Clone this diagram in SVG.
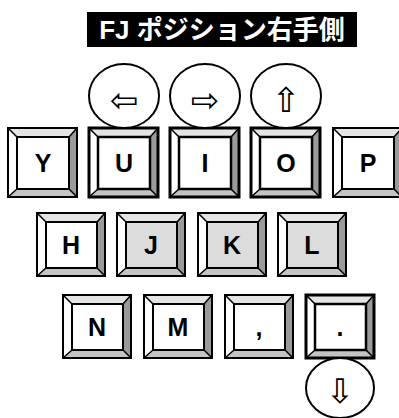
<svg xmlns="http://www.w3.org/2000/svg" width="399" height="418" viewBox="0 0 399 418">
<style>
.bl{fill:#ffffff}
.bt{fill:#e4e4e4}
.br{fill:#9a9a9a}
.bb{fill:#c4c4c4}
.face{fill:#ffffff;stroke:#000;stroke-width:2}
.gray .face{fill:#dcdcdc}
.gray .bl{fill:#f0f0f0}
.gray .bt{fill:#d8d8d8}
.edge{stroke:#000;stroke-width:1.5;fill:none}
.out{fill:none;stroke:#000;stroke-width:2}
.bold .out{stroke-width:3}
.bold .face{stroke-width:2.5}
.lbl{font-family:"Liberation Sans",Arial,sans-serif;font-weight:bold;font-size:25px;fill:#000;text-anchor:middle}
.circ{fill:#fff;stroke:#000;stroke-width:2}
.arr{font-family:"DejaVu Sans",sans-serif;font-size:34px;fill:#000;text-anchor:middle}
.title{font-family:"Liberation Sans","Noto Sans CJK JP",sans-serif;font-weight:bold;font-size:26px;fill:#fff;text-anchor:middle}
</style>
<defs>
<g id="k69">
<polygon class="bl" points="0,0 9,9 9,60 0,69"/>
<polygon class="bt" points="0,0 69,0 61,9 9,9"/>
<polygon class="br" points="69,0 69,69 61,61 61,9"/>
<polygon class="bb" points="0,69 69,69 61,61 9,61"/>
<path class="edge" d="M0,0L9,9M69,0L61,9M69,69L61,61M0,69L9,61"/>
</g>
<g id="k63">
<polygon class="bl" points="0,0 9,9 9,55 0,63"/>
<polygon class="bt" points="0,0 68,0 60,9 9,9"/>
<polygon class="br" points="68,0 68,63 60,55 60,9"/>
<polygon class="bb" points="0,63 68,63 60,55 9,55"/>
<path class="edge" d="M0,0L9,9M68,0L60,9M68,63L60,55M0,63L9,55"/>
</g>
</defs>
<rect width="399" height="418" fill="#fff"/>
<g id="title">
<rect x="87" y="12" width="270" height="35" fill="#000"/>
<text class="title" x="222" y="39">FJ ポジション右手側</text>
</g>
<g id="connectors"></g>
<!-- Row 1 -->
<g id="key-Y" transform="translate(8,128)">
<use href="#k69"/><rect class="face" x="9" y="9" width="52" height="52"/><rect class="out" width="69" height="69"/>
<text class="lbl" x="35" y="44">Y</text>
</g>
<g id="key-U" class="bold" transform="translate(89,128)">
<use href="#k69"/><rect class="face" x="9" y="9" width="52" height="52"/><rect class="out" width="69" height="69"/>
<text class="lbl" x="35" y="44">U</text>
</g>
<g id="key-I" class="bold" transform="translate(170,128)">
<use href="#k69"/><rect class="face" x="9" y="9" width="52" height="52"/><rect class="out" width="69" height="69"/>
<text class="lbl" x="35" y="44">I</text>
</g>
<g id="key-O" class="bold" transform="translate(251,128)">
<use href="#k69"/><rect class="face" x="9" y="9" width="52" height="52"/><rect class="out" width="69" height="69"/>
<text class="lbl" x="35" y="44">O</text>
</g>
<g id="key-P" transform="translate(333,128)">
<use href="#k69"/><rect class="face" x="9" y="9" width="52" height="52"/><rect class="out" width="69" height="69"/>
<text class="lbl" x="35" y="44">P</text>
</g>
<!-- Row 2 -->
<g id="key-H" transform="translate(37,213)">
<use href="#k63"/><rect class="face" x="9" y="9" width="51" height="46"/><rect class="out" width="68" height="63"/>
<text class="lbl" x="34" y="41">H</text>
</g>
<g id="key-J" class="gray" transform="translate(117,213)">
<use href="#k63"/><rect class="face" x="9" y="9" width="51" height="46"/><rect class="out" width="68" height="63"/>
<text class="lbl" x="34" y="41">J</text>
</g>
<g id="key-K" class="gray" transform="translate(198,213)">
<use href="#k63"/><rect class="face" x="9" y="9" width="51" height="46"/><rect class="out" width="68" height="63"/>
<text class="lbl" x="34" y="41">K</text>
</g>
<g id="key-L" class="gray" transform="translate(278,213)">
<use href="#k63"/><rect class="face" x="9" y="9" width="51" height="46"/><rect class="out" width="68" height="63"/>
<text class="lbl" x="34" y="41">L</text>
</g>
<!-- Row 3 -->
<g id="key-N" transform="translate(63,295)">
<use href="#k63"/><rect class="face" x="9" y="9" width="51" height="46"/><rect class="out" width="68" height="63"/>
<text class="lbl" x="34" y="41">N</text>
</g>
<g id="key-M" transform="translate(144,295)">
<use href="#k63"/><rect class="face" x="9" y="9" width="51" height="46"/><rect class="out" width="68" height="63"/>
<text class="lbl" x="34" y="41">M</text>
</g>
<g id="key-comma" transform="translate(225,295)">
<use href="#k63"/><rect class="face" x="9" y="9" width="51" height="46"/><rect class="out" width="68" height="63"/>
<text class="lbl" x="34" y="41">,</text>
</g>
<g id="key-period" class="bold" transform="translate(306,295)">
<use href="#k63"/><rect class="face" x="9" y="9" width="51" height="46"/><rect class="out" width="68" height="63"/>
<text class="lbl" x="34" y="41">.</text>
</g>
<!-- Circles -->
<g id="circle-left">
<ellipse class="circ" cx="124" cy="96" rx="35" ry="32"/>
<text class="arr" x="124" y="112">⇦</text>
</g>
<g id="circle-right">
<ellipse class="circ" cx="205" cy="96" rx="35" ry="32"/>
<text class="arr" x="205" y="112">⇨</text>
</g>
<g id="circle-up">
<ellipse class="circ" cx="286" cy="96" rx="35" ry="32"/>
<text class="arr" x="286" y="112">⇧</text>
</g>
<g id="circle-down">
<ellipse class="circ" cx="340" cy="388" rx="34" ry="30"/>
<text class="arr" x="340" y="403">⇩</text>
</g>
</svg>
